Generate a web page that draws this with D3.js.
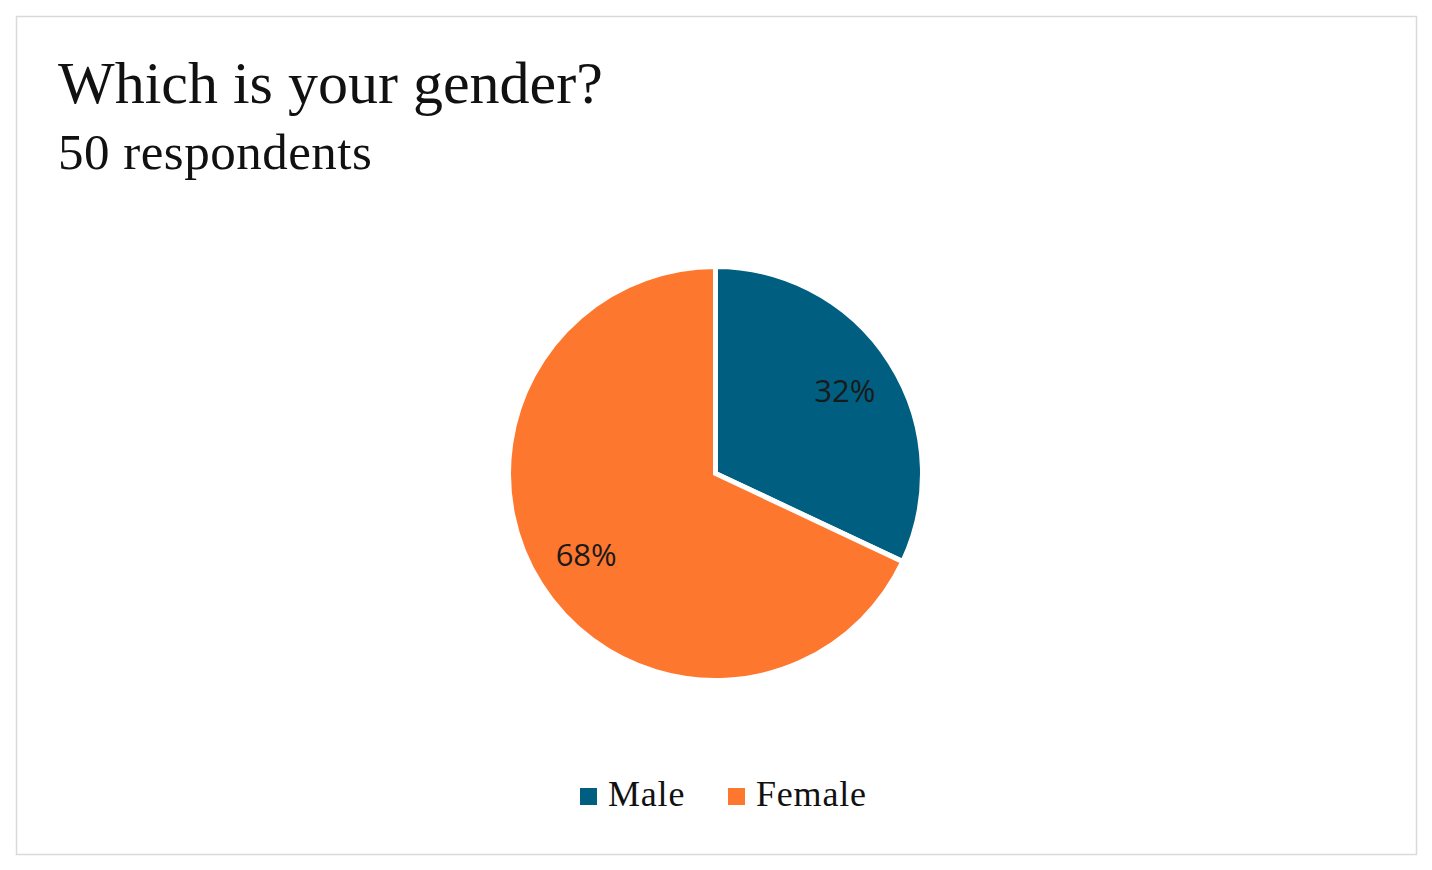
<!DOCTYPE html>
<html><head><meta charset="utf-8">
<script src="https://cdn.jsdelivr.net/npm/d3@7"></script>
<style>html,body{margin:0;padding:0;background:#fff;}</style>
</head><body>
<svg id="chart" width="1432" height="870"></svg>
<script>
const categories = ["Male", "Female"];
const values = [32, 68];
const colors = ["#005f80", "#fe772f"];
const title = "Which is your gender?";
const subtitle = "50 respondents";

const svg = d3.select("#chart");
svg.append("rect").attr("x",16.5).attr("y",16.5).attr("width",1400).attr("height",838)
  .attr("fill","#fff").attr("stroke","#d9d9d9").attr("stroke-width",1.5);

svg.append("text").attr("x",58).attr("y",103).text(title)
  .attr("font-family","'Liberation Serif', 'DejaVu Serif', serif").attr("font-size",60).attr("fill","#111");
svg.append("text").attr("x",58).attr("y",169).text(subtitle)
  .attr("font-family","'Liberation Serif', 'DejaVu Serif', serif").attr("font-size",51).attr("fill","#111")
  .attr("letter-spacing",0.5);

const cx = 715.5, cy = 473.5, R = 207;
const color = d3.scaleOrdinal().domain(categories).range(colors);
const data = categories.map((c,i)=>({name:c, value:values[i]}));
const pie = d3.pie().value(d=>d.value).sort(null);
const arc = d3.arc().innerRadius(0).outerRadius(R);
const labelArc = d3.arc().innerRadius(R*0.74).outerRadius(R*0.74);
const g = svg.append("g").attr("transform",`translate(${cx},${cy})`);
const arcs = pie(data);
g.selectAll("path").data(arcs).join("path")
  .attr("d",arc).attr("fill",d=>color(d.data.name))
  .attr("stroke","#fff").attr("stroke-width",5).attr("stroke-linejoin","miter");
const total = d3.sum(values);
g.selectAll("text").data(arcs).join("text")
  .attr("transform",d=>`translate(${labelArc.centroid(d)})`)
  .attr("text-anchor","middle").attr("dy","0.35em")
  .attr("font-family","'Open Sans', 'Noto Sans', sans-serif").attr("font-size",31)
  .attr("fill","#1a1a1a")
  .text(d=>Math.round(d.data.value/total*100)+"%");

// legend
const legX = [580, 728];
const leg = svg.append("g");
categories.forEach((c,i)=>{
  leg.append("rect").attr("x",legX[i]).attr("y",788).attr("width",17).attr("height",17).attr("fill",color(c));
  leg.append("text").attr("x",legX[i]+28).attr("y",806).text(c)
    .attr("font-family","'Liberation Serif', 'DejaVu Serif', serif").attr("font-size",36).attr("fill","#111")
    .attr("letter-spacing",0.8);
});
</script>
</body></html>
